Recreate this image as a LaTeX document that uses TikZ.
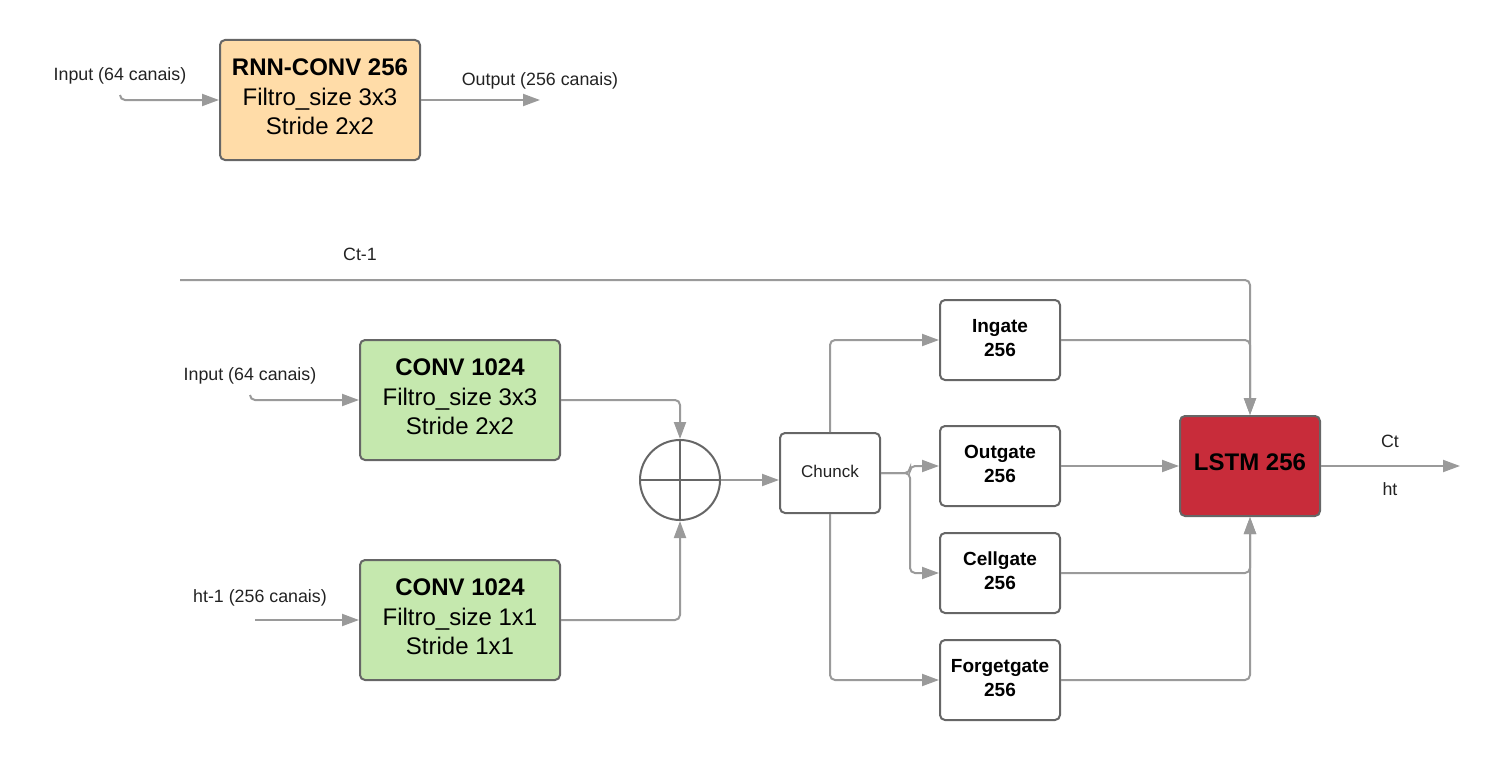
\documentclass[tikz,border=0pt]{standalone}
\usepackage{fontspec}
\setmainfont{Liberation Sans}
\usetikzlibrary{arrows.meta}
\definecolor{linegray}{HTML}{9A9A9A}
\definecolor{boxborder}{HTML}{666666}
\definecolor{orangefill}{HTML}{FFDCA8}
\definecolor{greenfill}{HTML}{C5E8AE}
\definecolor{redfill}{HTML}{C82C3A}
\definecolor{labeltext}{HTML}{222222}
\tikzset{
  conn/.style={draw=linegray, line width=2pt, rounded corners=5pt, -{Triangle[length=17pt,width=12pt]}},
  plain/.style={draw=linegray, line width=2pt, rounded corners=5pt},
  bigbox/.style={draw=boxborder, line width=2pt, rounded corners=5pt, minimum width=200pt, minimum height=120pt, inner sep=0pt},
  bigtext/.style={align=center, font=\fontsize{24}{29.5}\selectfont, inner sep=0pt},
  gatebox/.style={draw=boxborder, line width=2pt, rounded corners=5pt, fill=white, minimum width=120pt, minimum height=80pt, inner sep=0pt},
  gatetext/.style={align=center, font=\fontsize{19}{24}\selectfont\bfseries, inner sep=0pt},
  lbl/.style={text=labeltext, font=\fontsize{17.8}{20}\selectfont, inner sep=0pt},
}
\begin{document}
\begin{tikzpicture}[x=1pt,y=-1pt]
\useasboundingbox (0,0) rectangle (1497,760);
% top block
\node[bigbox, fill=orangefill] (rnn) at (320,100) {};
\node[bigtext] (rnntxt) at (320,97) {\textbf{RNN-CONV 256}\\Filtro\_size 3x3\\Stride 2x2};
\node[lbl] (inlbl0) at (120,76) {Input (64 canais)};
\node[lbl] (outlbl0) at (540,81) {Output (256 canais)};
\coordinate (in0) at (120,95);
\coordinate (out0) at (540,100);
\draw[conn] (in0) |- (rnn.west);
\draw[conn] (rnn.east) -- (out0);

% conv blocks
\node[bigbox, fill=greenfill] (conv1) at (460,400) {};
\node[bigtext] (conv1txt) at (460,397) {\textbf{CONV 1024}\\Filtro\_size 3x3\\Stride 2x2};
\node[bigbox, fill=greenfill] (conv2) at (460,620) {};
\node[bigtext] (conv2txt) at (460,617) {\textbf{CONV 1024}\\Filtro\_size 1x1\\Stride 1x1};
\node[lbl] (inlbl1) at (250,376) {Input (64 canais)};
\node[lbl] (htlbl) at (260,598) {ht-1 (256 canais)};
\coordinate (in1) at (250,395);
\coordinate (ht1) at (255,620);
\draw[conn] (in1) |- (conv1.west);
\draw[conn] (ht1) -- (conv2.west);

% sum circle
\node[draw=boxborder, line width=2pt, circle, minimum size=80pt, inner sep=0pt] (sum) at (680,480) {};
\draw[boxborder, line width=2pt] (sum.north) -- (sum.south) (sum.west) -- (sum.east);
\draw[conn] (conv1.east) -| (sum.north);
\draw[conn] (conv2.east) -| (sum.south);

% chunck
\node[draw=boxborder, line width=2pt, rounded corners=5pt, minimum width=100pt, minimum height=80pt, inner sep=0pt] (chunck) at (830,473) {};
\node[lbl, font=\fontsize{17}{20}\selectfont] (chuncktxt) at (830,471) {Chunck};
\draw[conn] (sum.east) -- (sum.east -| chunck.west);

% gates
\node[gatebox] (ingate) at (1000,340) {};
\node[gatetext] (ingatetxt) at (1000,338) {Ingate\\256};
\node[gatebox] (outgate) at (1000,466) {};
\node[gatetext] (outgatetxt) at (1000,464) {Outgate\\256};
\node[gatebox] (cellgate) at (1000,573) {};
\node[gatetext] (cellgatetxt) at (1000,571) {Cellgate\\256};
\node[gatebox] (forget) at (1000,680) {};
\node[gatetext] (forgettxt) at (1000,678) {Forgetgate\\256};

\coordinate (split) at (910,473);
\draw[conn] (chunck.north) |- (ingate.west);
\draw[conn] (chunck.south) |- (forget.west);
\draw[conn] (chunck.east) -- (split) |- (outgate.west);
\draw[conn] (chunck.east) -- (split) |- (cellgate.west);

% LSTM
\node[draw=boxborder, line width=2pt, rounded corners=5pt, fill=redfill, minimum width=140pt, minimum height=100pt, inner sep=0pt] (lstm) at (1250,466) {};
\node[inner sep=0pt, font=\fontsize{24}{29}\selectfont\bfseries] (lstmtxt) at (1250,462) {LSTM 256};

\coordinate (ctstart) at (180,280);
\node[lbl] (ctlbl) at (360,254) {Ct-1};
\draw[conn] (ctstart) -| (lstm.north);
\draw[conn] (ingate.east) -| (lstm.north);
\draw[conn] (outgate.east) -- (lstm.west);
\draw[conn] (cellgate.east) -| (lstm.south);
\draw[conn] (forget.east) -| (lstm.south);

\coordinate (outend) at (1460,466);
\draw[conn] (lstm.east) -- (outend);
\node[lbl] (ctout) at (1390,441) {Ct};
\node[lbl] (htout) at (1390,489) {ht};
\end{tikzpicture}
\end{document}
